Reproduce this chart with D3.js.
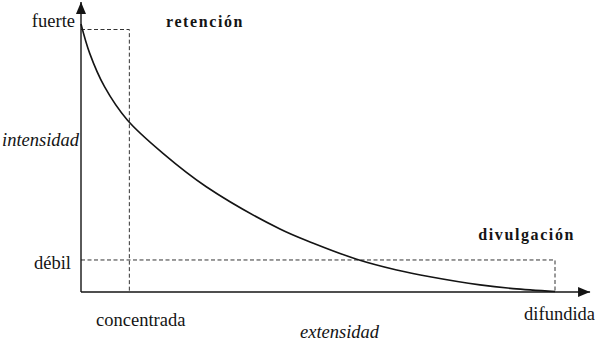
<!DOCTYPE html>
<html>
<head>
<meta charset="utf-8">
<script src="https://cdn.jsdelivr.net/npm/d3@7"></script>
<style>
  html, body { margin: 0; padding: 0; background: #fff; }
  svg { display: block; }
</style>
</head>
<body>
<svg id="chart" width="595" height="341"></svg>
<script>
// Curve of intensity (y) against extent (x), both on a 0–100 scale.
const extent    = [0, 1.84, 4.96, 9.77, 17.3, 26.43, 41.98, 49.01, 58.16, 66.6, 73.63, 84.18, 91.14, 100];
const intensity = [102.1, 90.9, 78.2, 65.5, 52.8, 40.1, 24.0, 18.6, 12.5, 8.4, 5.8, 2.7, 1.3, 0.2];

// Reference levels on each axis
const yLevels = [{ label: "fuerte", value: 100 }, { label: "débil", value: 12.2 }];
const xLevels = [{ label: "concentrada", value: 10.2 }, { label: "difundida", value: 100 }];

// Axis extents (arrow tips) in data units
const xAxisMax = 107.4;
const yAxisMax = 110.5;

const svg = d3.select("#chart");
const x = d3.scaleLinear().domain([0, 100]).range([81, 555]);
const y = d3.scaleLinear().domain([0, 100]).range([292, 29.5]);

const ink = "#141414";

// Arrowhead
svg.append("defs").append("marker")
  .attr("id", "arrow")
  .attr("viewBox", "0 0 12 10")
  .attr("refX", 12).attr("refY", 5)
  .attr("markerWidth", 12).attr("markerHeight", 10)
  .attr("markerUnits", "userSpaceOnUse")
  .attr("orient", "auto")
  .append("path")
  .attr("d", "M0,0 L12,5 L0,10 Z")
  .attr("fill", ink);

// Dashed guides
const guides = svg.append("g")
  .attr("fill", "none")
  .attr("stroke", "#333")
  .attr("stroke-width", 1)
  .attr("stroke-dasharray", "4,2.5");

// fuerte across to concentrada, then down to the axis
guides.append("path")
  .attr("d", d3.line()([
    [x(0), y(yLevels[0].value)],
    [x(xLevels[0].value), y(yLevels[0].value)],
    [x(xLevels[0].value), y(0)]
  ]));
// débil across to difundida, then down to the axis
guides.append("path")
  .attr("d", d3.line()([
    [x(0), y(yLevels[1].value)],
    [x(xLevels[1].value), y(yLevels[1].value)],
    [x(xLevels[1].value), y(0)]
  ]));

// Axes
svg.append("line")
  .attr("x1", x(0)).attr("y1", y(0))
  .attr("x2", x(xAxisMax)).attr("y2", y(0))
  .attr("stroke", ink).attr("stroke-width", 1.4)
  .attr("marker-end", "url(#arrow)");
svg.append("line")
  .attr("x1", x(0)).attr("y1", y(0))
  .attr("x2", x(0)).attr("y2", y(yAxisMax))
  .attr("stroke", ink).attr("stroke-width", 1.4)
  .attr("marker-end", "url(#arrow)");

// Curve
const pts = extent.map((e, i) => [e, intensity[i]]);
svg.append("path")
  .datum(pts)
  .attr("fill", "none")
  .attr("stroke", ink)
  .attr("stroke-width", 1.6)
  .attr("d", d3.line().x(d => x(d[0])).y(d => y(d[1])).curve(d3.curveCatmullRom.alpha(0.5)));

// Labels
function label(px, py, txt, anchor, opts = {}) {
  const t = svg.append("text")
    .attr("x", px).attr("y", py)
    .attr("text-anchor", anchor)
    .attr("fill", ink)
    .style("font-family", "Liberation Serif")
    .style("font-size", (opts.size || 18.5) + "px");
  if (opts.italic) t.style("font-style", "italic");
  if (opts.bold) t.style("font-weight", "bold");
  if (opts.spacing) t.style("letter-spacing", opts.spacing + "px");
  return t.text(txt);
}

label(75, 27, yLevels[0].label, "end");
label(71, 269, yLevels[1].label, "end");
label(96, 326, xLevels[0].label, "start");
label(595, 320, xLevels[1].label, "end");

label(2, 146, "intensidad", "start", { italic: true });
label(300, 337.5, "extensidad", "start", { italic: true });

label(166, 26.5, "retención", "start", { bold: true, size: 16, spacing: 1.6 });
label(575, 240, "divulgación", "end", { bold: true, size: 16, spacing: 1.6 });
</script>
</body>
</html>
